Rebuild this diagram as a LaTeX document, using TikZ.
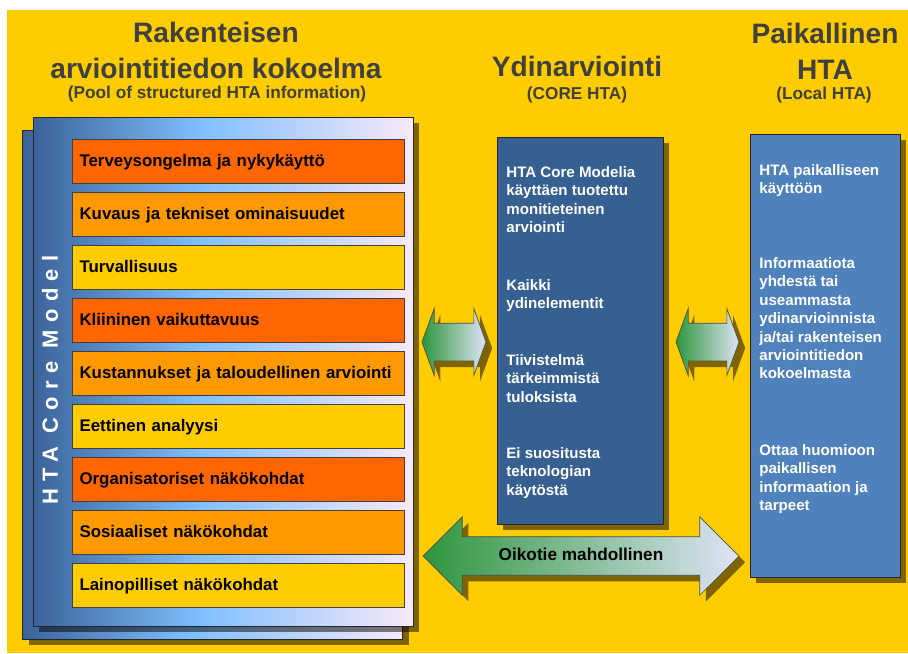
\documentclass[tikz,border=0pt]{standalone}
\usepackage{fontspec}
\setmainfont{Liberation Sans}
\newfontfamily\spacedfont[LetterSpace=33]{Liberation Sans}
\usetikzlibrary{shapes.arrows,shadows}

\definecolor{bgyellow}{RGB}{255,204,0}
\definecolor{itemred}{RGB}{255,102,0}
\definecolor{itemorange}{RGB}{255,153,0}
\definecolor{itemyellow}{RGB}{255,204,0}
\definecolor{coreblue}{RGB}{55,96,146}
\definecolor{localblue}{RGB}{79,129,189}
\definecolor{headgray}{RGB}{64,64,64}
\definecolor{panelleft}{RGB}{59,99,153}
\definecolor{panelmid}{RGB}{128,191,255}
\definecolor{panelright}{RGB}{248,233,248}
\definecolor{arrowgreen}{RGB}{46,150,60}
\definecolor{arrowpale}{RGB}{222,228,246}

\pgfdeclarehorizontalshading{poolshade}{100bp}{color(0bp)=(panelleft); color(25bp)=(panelleft); color(47bp)=(panelmid); color(75bp)=(panelright); color(100bp)=(panelright)}

\tikzset{
  softshadow/.style={drop shadow={shadow xshift=3.5pt, shadow yshift=-3.5pt, opacity=0.5, fill=black}},
  panel/.style={draw=black!85, shade, shading=poolshade, minimum width=7.6cm, minimum height=10.18cm, softshadow},
  item/.style={draw=black!75, minimum width=6.64cm, minimum height=0.88cm, text width=6.34cm,
    text height=8pt, text depth=1.2pt,
    inner xsep=0.15cm, inner ysep=0pt, align=left, font=\fontsize{9.6}{11}\selectfont\bfseries},
  heading/.style={text=headgray, align=center, inner sep=0pt, font=\fontsize{16}{20.4}\selectfont\bfseries},
  subheading/.style={text=headgray, inner sep=0pt, font=\fontsize{9.8}{11}\selectfont\bfseries},
  bluebox/.style={draw=black!85, softshadow},
  boxtext/.style={anchor=north west, inner sep=0pt, text=white, align=left, font=\fontsize{8.6}{10.5}\selectfont\bfseries},
  twoway/.style={double arrow, draw=black!70, left color=arrowgreen, right color=arrowpale, inner xsep=0pt, softshadow},
}

\begin{document}
\begin{tikzpicture}[x=0.02cm, y=-0.02cm]
  \useasboundingbox (0,0) rectangle (908,653);
  \fill[bgyellow] (7,10) rectangle (908,653);

  % Otsikot
  \node[heading, anchor=north] (pooltitle) at (216,22) {Rakenteisen\\arviointitiedon kokoelma};
  \node[subheading] (poolsub) at (217,94) {(Pool of structured HTA information)};
  \node[heading, anchor=north] (coretitle) at (577,56) {Ydinarviointi};
  \node[subheading] (coresub) at (577,95) {(CORE HTA)};
  \node[heading, anchor=north] (localtitle) at (825,23) {Paikallinen\\HTA};
  \node[subheading] (localsub) at (824,95) {(Local HTA)};

  % Rakenteinen kokoelma
  \node[panel] (poolback) at (212.5,384.5) {};
  \node[panel] (pool) at (223,371.5) {};
  \node[rotate=90, text=white, inner sep=0pt, font=\spacedfont\fontsize{12.5}{14}\selectfont\bfseries] (coremodel) at (50,380) {HTA Core Model};

  \node[item, fill=itemred] (d1) at (238,161) {Terveysongelma ja nykykäyttö};
  \node[item, fill=itemorange] (d2) at (238,214) {Kuvaus ja tekniset ominaisuudet};
  \node[item, fill=itemyellow] (d3) at (238,267) {Turvallisuus};
  \node[item, fill=itemred] (d4) at (238,320) {Kliininen vaikuttavuus};
  \node[item, fill=itemorange] (d5) at (238,373) {Kustannukset ja taloudellinen arviointi};
  \node[item, fill=itemyellow] (d6) at (238,426) {Eettinen analyysi};
  \node[item, fill=itemred] (d7) at (238,479) {Organisatoriset näkökohdat};
  \node[item, fill=itemorange] (d8) at (238,532) {Sosiaaliset näkökohdat};
  \node[item, fill=itemyellow] (d9) at (238,585) {Lainopilliset näkökohdat};

  % Ydinarviointi
  \node[bluebox, fill=coreblue, minimum width=3.32cm, minimum height=7.74cm] (core) at (580,330.5) {};
  \node[boxtext] (core1) at (506,166) {HTA Core Modelia\\käyttäen tuotettu\\monitieteinen\\arviointi};
  \node[boxtext] (core2) at (506,279) {Kaikki\\ydinelementit};
  \node[boxtext] (core3) at (506,354) {Tiivistelmä\\tärkeimmistä\\tuloksista};
  \node[boxtext] (core4) at (506,447) {Ei suositusta\\teknologian\\käytöstä};

  % Paikallinen HTA
  \node[bluebox, fill=localblue, minimum width=3cm, minimum height=8.86cm] (local) at (825,355.5) {};
  \node[boxtext] (local1) at (759,164) {HTA paikalliseen\\käyttöön};
  \node[boxtext] (local2) at (759,257) {Informaatiota\\yhdestä tai\\useammasta\\ydinarvioinnista\\ja/tai rakenteisen\\arviointitiedon\\kokoelmasta};
  \node[boxtext] (local3) at (759,444) {Ottaa huomioon\\paikallisen\\informaation ja\\tarpeet};

  % Nuolet
  \node[twoway, inner ysep=0.37cm, minimum height=1.28cm, minimum width=1.32cm, double arrow head extend=0.29cm, double arrow tip angle=140] (poolcore) at (454,342) {};
  \node[twoway, inner ysep=0.37cm, minimum height=1.26cm, minimum width=1.32cm, double arrow head extend=0.29cm, double arrow tip angle=140] (corelocal) at (707.5,342) {};
  \node[twoway, inner ysep=0.221cm, text height=7pt, text depth=2pt, minimum height=6.32cm, minimum width=1.56cm,
    double arrow head extend=0.4cm, double arrow tip angle=90,
    font=\fontsize{9.8}{11}\selectfont\bfseries] (shortcut) at (581,556) {Oikotie mahdollinen};
\end{tikzpicture}
\end{document}
